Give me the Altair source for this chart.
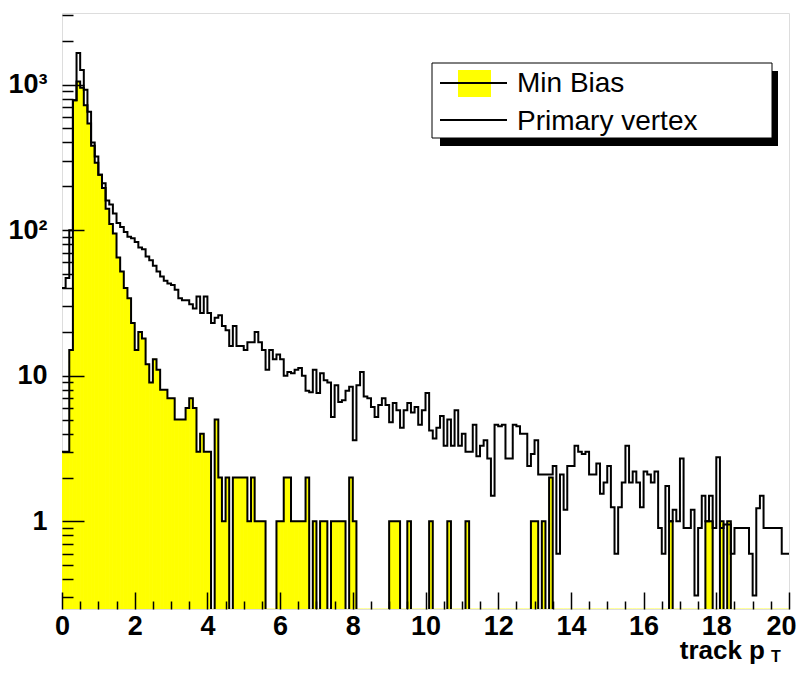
import altair as alt
import pandas as pd

# ---------------- data ----------------
BIN_WIDTH = 0.1
N_BINS = 200

# Min Bias track pT histogram (counts per 0.1 GeV bin, 0..20)
min_bias = [
    3, 3, 15, 780, 1050, 950, 720, 540, 380, 290,
    240, 195, 140, 110, 95, 65, 52, 40, 34, 23,
    15, 20, 18, 12, 9, 13, 11, 8, 8, 7,
    7, 5, 5, 5, 6, 7, 6, 3, 4, 3,
    3, 0, 5, 2, 1, 2, 0, 2, 2, 2,
    2, 1, 2, 1, 1, 1, 0, 0, 0, 1,
    1, 2, 2, 1, 1, 1, 1, 2, 0, 1,
    0, 1, 1, 0, 1, 1, 1, 1, 0, 2,
    1, 0, 0, 0, 0, 0, 0, 0, 0, 0,
    1, 1, 1, 0, 0, 1, 0, 0, 0, 0,
    0, 1, 0, 0, 0, 0, 1, 0, 0, 0,
    0, 1, 0, 0, 0, 0, 0, 0, 0, 0,
    0, 0, 0, 0, 0, 0, 0, 0, 0, 1,
    1, 0, 1, 0, 2, 0, 0, 0, 0, 0,
    0, 0, 0, 0, 0, 0, 0, 0, 0, 0,
    0, 0, 0, 0, 0, 0, 0, 0, 0, 0,
    0, 0, 0, 0, 0, 0, 0, 1, 0, 0,
    0, 0, 0, 0, 0, 0, 0, 1, 1, 0,
    0, 1, 0, 1, 0, 0, 0, 0, 0, 0,
    0, 0, 0, 0, 0, 0, 0, 0, 0, 0,
]

# Primary vertex track pT histogram
primary_vertex = [
    40, 47, 100, 780, 1650, 1260, 920, 650, 400, 320,
    240, 210, 160, 150, 130, 112, 105, 97, 90, 88,
    83, 76, 74, 66, 62, 57, 52, 48, 45, 43,
    42, 39, 34, 33, 33, 31, 29, 35, 27, 35,
    27, 23, 25, 26, 22, 20.5, 16, 22, 16, 16,
    15, 17, 17, 20, 17, 15, 11, 15, 13, 14,
    13, 10, 10.6, 10.4, 11, 11.3, 10, 7.9, 7.7, 11,
    7.6, 10.4, 9.3, 9, 5.2, 8.6, 6.6, 6.8, 7.9, 8.4,
    3.6, 8.6, 10.6, 7.2, 7, 6.1, 5.2, 6.3, 7, 6.3,
    4.8, 6.5, 5.8, 4.4, 5.8, 6.5, 5.6, 6.1, 4.6, 5.8,
    7.6, 4.2, 3.7, 4.4, 5.3, 3.3, 5, 3.3, 5.8, 3.3,
    4, 3, 3, 4.6, 2.8, 3.3, 3.6, 2.7, 1.5, 4.6,
    4.5, 4.6, 2.7, 2.7, 4.6, 4.5, 4, 4, 2.4, 2.9,
    3.6, 2.1, 2.1, 2.1, 2.1, 2.4, 0.6, 2.1, 1.2, 2.4,
    2.4, 3.3, 3.0, 2.9, 3.0, 2.1, 2.1, 2.5, 1.55, 1.85,
    2.4, 1.25, 0.6, 1.25, 1.85, 3.3, 1.85, 2.2, 1.85, 1.25,
    2.2, 2.1, 1.85, 2.2, 0.9, 0.6, 1.75, 1.0, 1.2, 1.0,
    2.7, 0.9, 0.9, 1.2, 0.31, 0.9, 1.5, 1.0, 1.5, 0.9,
    2.75, 0.9, 0.95, 0.95, 0.6, 0.9, 0.9, 0.9, 0.9, 0.6,
    0.31, 1.23, 1.5, 0.9, 0.9, 0.9, 0.9, 0.9, 0.6, 0.6,
]

x_label_values = [0, 2, 4, 6, 8, 10, 12, 14, 16, 18, 20]
x_tick_values = [i * 0.5 for i in range(41)]
y_label_values = [1, 10, 100, 1000]
y_tick_values = ([0.3, 0.4, 0.5, 0.6, 0.7, 0.8, 0.9]
                 + [1, 2, 3, 4, 5, 6, 7, 8, 9]
                 + [10, 20, 30, 40, 50, 60, 70, 80, 90]
                 + [100, 200, 300, 400, 500, 600, 700, 800, 900]
                 + [1000, 2000, 3000])
legend_labels = ["Min Bias", "Primary vertex"]
axis_title = "track p"
axis_title_sub = "T"

# ---------------- layout / style ----------------
W, H = 727, 596
FONT = "Liberation Sans"
Y_FLOOR = 0.05  # empty bins are drawn below the visible floor (clipped)

x_scale = alt.Scale(domain=[0, 20], nice=False, zero=False)
y_scale = alt.Scale(type="log", domain=[0.25, 3100], nice=False)

lefts = [round(i * BIN_WIDTH, 1) for i in range(N_BINS)]
rights = [round((i + 1) * BIN_WIDTH, 1) for i in range(N_BINS)]
mb_plot = [v if v > 0 else Y_FLOOR for v in min_bias]
pv_plot = [v if v > 0 else Y_FLOOR for v in primary_vertex]

bins_df = pd.DataFrame({"pt": lefts, "pt_end": rights, "mb": mb_plot})
steps_df = pd.DataFrame({
    "pt": lefts + [20.0],
    "mb": mb_plot + [mb_plot[-1]],
    "pv": pv_plot + [pv_plot[-1]],
})

label_expr = ("datum.value == 1 ? '1' : datum.value == 10 ? '10' : "
              "datum.value == 100 ? '10\u00b2' : '10\u00b3'")

# Main axes (labels only)
x_axis_main = alt.Axis(orient="bottom", values=x_label_values, ticks=False, domain=False,
                       grid=False, labelFont=FONT, labelFontSize=27, labelFontWeight="bold",
                       labelColor="black", labelPadding=4, labelFlush=False, title=None,
                       labelOffset={"condition": {"test": "datum.value == 20", "value": -8},
                                    "value": 0})
y_axis_main = alt.Axis(orient="left", values=y_label_values, labelExpr=label_expr,
                       ticks=False, domain=False, grid=False, labelFont=FONT,
                       labelFontSize=27, labelFontWeight="bold", labelColor="black",
                       labelPadding=15, title=None)

# Inward tick axes (placed on the opposite orient, shifted onto the frame)
x_axis_ticks = alt.Axis(orient="top", offset=-H, values=x_tick_values, labels=False,
                        domain=False, grid=False, title=None, tickColor="black",
                        tickWidth=1.5, zindex=1,
                        tickSize={"condition": {"test": "datum.value % 2 === 0", "value": 17},
                                  "value": 8})
y_axis_ticks = alt.Axis(orient="right", offset=-W, values=y_tick_values, labels=False,
                        domain=False, grid=False, title=None, tickColor="black",
                        tickWidth=1.5, zindex=1,
                        tickSize={"condition": {"test": "indexof([1, 10, 100, 1000], datum.value) >= 0",
                                                "value": 22},
                                  "value": 11})

mb_fill = alt.Chart(bins_df).mark_rect(color="#ffff00", stroke="#ffff00", strokeWidth=0.8,
                                       clip=True).encode(
    x=alt.X("pt:Q", scale=x_scale, axis=x_axis_main),
    x2="pt_end:Q",
    y=alt.Y("mb:Q", scale=y_scale, axis=y_axis_main),
    y2=alt.value(H),
)
mb_line = alt.Chart(steps_df).mark_line(interpolate="step-after", color="black", strokeWidth=2,
                                        clip=True).encode(
    x=alt.X("pt:Q", scale=x_scale, axis=None),
    y=alt.Y("mb:Q", scale=y_scale, axis=None),
)
pv_line = alt.Chart(steps_df).mark_line(interpolate="step-after", color="black", strokeWidth=2,
                                        clip=True).encode(
    x=alt.X("pt:Q", scale=x_scale, axis=x_axis_ticks),
    y=alt.Y("pv:Q", scale=y_scale, axis=y_axis_ticks),
)

# ---------------- legend (drawn as a ROOT-style box with shadow) ----------------
one = pd.DataFrame({"k": [0]})
lg_shadow = alt.Chart(one).mark_rect(color="black").encode(
    x=alt.value(378), x2=alt.value(716), y=alt.value(58), y2=alt.value(133))
lg_box = alt.Chart(one).mark_rect(fill="white", stroke="black", strokeWidth=1).encode(
    x=alt.value(370), x2=alt.value(710), y=alt.value(50), y2=alt.value(125))
lg_yellow = alt.Chart(one).mark_rect(color="#ffff00").encode(
    x=alt.value(396), x2=alt.value(429), y=alt.value(57), y2=alt.value(84))
lg_rule1 = alt.Chart(one).mark_rule(color="black", strokeWidth=2).encode(
    x=alt.value(378), x2=alt.value(445), y=alt.value(70))
lg_rule2 = alt.Chart(one).mark_rule(color="black", strokeWidth=2).encode(
    x=alt.value(378), x2=alt.value(445), y=alt.value(107))
lg_text1 = alt.Chart(pd.DataFrame({"t": [legend_labels[0]]})).mark_text(
    align="left", baseline="alphabetic", font=FONT, fontSize=28, color="black").encode(
    x=alt.value(455), y=alt.value(79), text="t:N")
lg_text2 = alt.Chart(pd.DataFrame({"t": [legend_labels[1]]})).mark_text(
    align="left", baseline="alphabetic", font=FONT, fontSize=28, color="black").encode(
    x=alt.value(455), y=alt.value(117), text="t:N")

# ---------------- axis title with subscript ----------------
title_main = alt.Chart(pd.DataFrame({"t": [axis_title]})).mark_text(
    align="right", baseline="alphabetic", font=FONT, fontSize=26, fontWeight="bold",
    color="black").encode(x=alt.value(703), y=alt.value(646), text="t:N")
title_sub = alt.Chart(pd.DataFrame({"t": [axis_title_sub]})).mark_text(
    align="left", baseline="alphabetic", font=FONT, fontSize=16, fontWeight="bold",
    color="black").encode(x=alt.value(709), y=alt.value(649), text="t:N")

chart = alt.layer(
    mb_fill, mb_line, pv_line,
    lg_shadow, lg_box, lg_yellow, lg_rule1, lg_rule2, lg_text1, lg_text2,
    title_main, title_sub,
).resolve_axis(x="independent", y="independent").properties(
    width=W, height=H,
    padding={"left": 54, "top": 5, "right": 9, "bottom": 58},
    autosize=alt.AutoSizeParams(type="none"),
).configure_view(stroke="black", strokeWidth=1.5).configure(background="white")

chart.save("out.html", embed_options={"renderer": "svg", "actions": False})
